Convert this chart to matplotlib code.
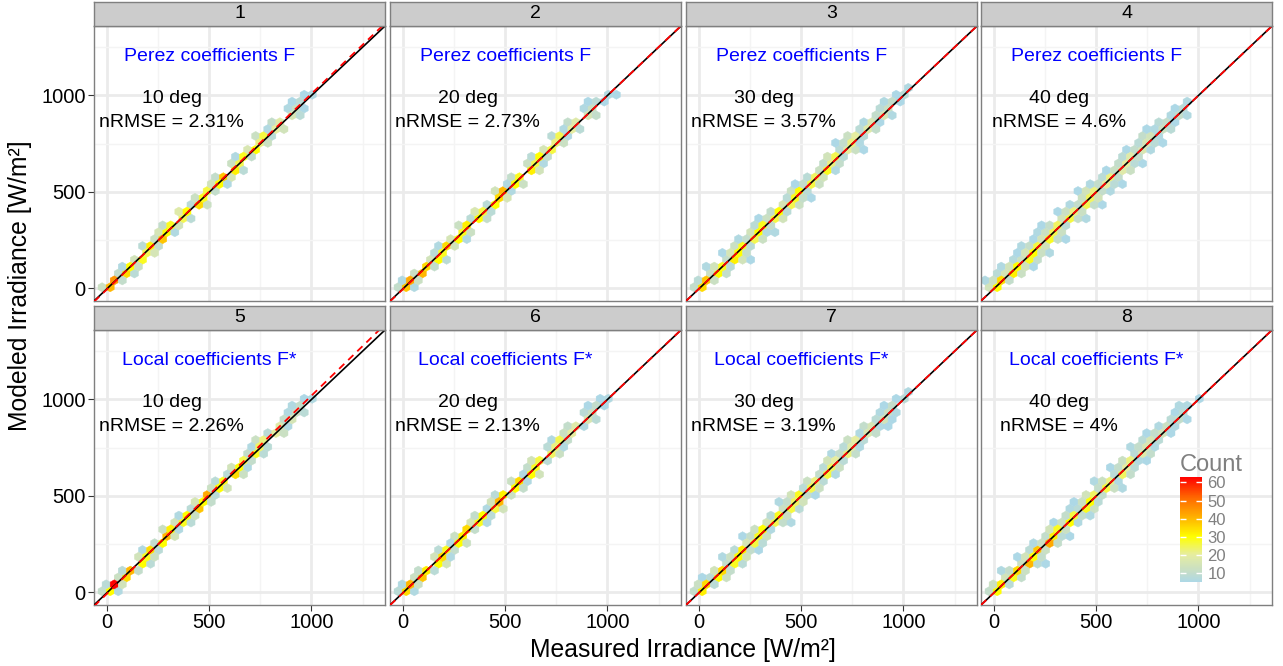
import numpy as np
import matplotlib.pyplot as plt
from matplotlib.colors import LinearSegmentedColormap, Normalize

plt.rcParams['font.family'] = ['Liberation Sans', 'DejaVu Sans']

# facet labels and annotations
panels = [1, 2, 3, 4, 5, 6, 7, 8]
subtitles = ['Perez coefficients F'] * 4 + ['Local coefficients F*'] * 4
degrees = [10, 20, 30, 40, 10, 20, 30, 40]
nrmse = ['2.31', '2.73', '3.57', '4.6', '2.26', '2.13', '3.19', '4']

# fitted line (modeled = a + b * measured), dashed red
fit_intercept = [-3, -2, 0, 1, -5, -1, 0, 0]
fit_slope = [1.012, 1.002, 1.0, 0.999, 1.025, 1.001, 1.0, 1.0]

# binned counts: modeled level (W/m2) x residual (modeled - measured)
levels = [15, 50, 85, 120, 155, 190, 225, 260, 295, 330, 365, 400, 435, 470, 505,
          540, 575, 610, 645, 680, 715, 750, 785, 820, 855, 890, 925, 960, 995, 1030]
resid = [-80, -40, 0, 40, 80]

on = [
    [40, 45, 35, 30, 28, 25, 32, 38, 30, 28, 25, 30, 35, 28, 26, 30, 38, 32, 25, 28, 30, 22, 26, 20, 18, 15, 12, 8, 6, 0],
    [38, 42, 40, 35, 30, 28, 35, 30, 28, 32, 30, 26, 30, 35, 40, 30, 28, 32, 25, 30, 26, 22, 25, 20, 18, 15, 12, 8, 6, 0],
    [35, 38, 30, 28, 32, 30, 28, 25, 30, 28, 26, 30, 25, 28, 30, 26, 24, 28, 22, 25, 20, 22, 20, 18, 16, 15, 12, 10, 8, 6],
    [30, 35, 32, 30, 28, 30, 26, 28, 25, 24, 26, 22, 25, 24, 22, 20, 22, 18, 20, 18, 16, 15, 14, 12, 10, 10, 8, 6, 0, 0],
    [30, 63, 35, 40, 30, 28, 35, 30, 40, 32, 28, 30, 38, 30, 42, 30, 28, 35, 30, 25, 28, 24, 22, 20, 18, 15, 12, 10, 6, 0],
    [35, 40, 38, 32, 30, 35, 28, 30, 32, 35, 28, 30, 26, 40, 32, 30, 35, 30, 28, 26, 24, 22, 25, 20, 18, 16, 12, 10, 6, 0],
    [32, 35, 30, 35, 28, 30, 32, 26, 28, 30, 25, 28, 26, 24, 28, 25, 22, 26, 24, 20, 22, 18, 20, 16, 15, 14, 12, 10, 8, 6],
    [30, 32, 28, 35, 40, 30, 38, 42, 32, 28, 30, 26, 28, 30, 24, 26, 22, 24, 20, 22, 18, 16, 15, 14, 12, 10, 8, 6, 5, 0],
]
up = [
    [12, 0, 10, 6, 14, 0, 8, 12, 15, 10, 0, 18, 8, 12, 0, 14, 10, 0, 12, 6, 16, 0, 12, 6, 10, 0, 6, 5, 5, 0],
    [10, 6, 12, 0, 14, 8, 6, 15, 0, 12, 8, 16, 8, 0, 14, 6, 10, 0, 12, 8, 15, 0, 8, 6, 10, 0, 6, 5, 0, 0],
    [10, 8, 12, 14, 10, 15, 12, 10, 14, 8, 12, 10, 15, 8, 12, 10, 8, 12, 10, 14, 8, 10, 12, 8, 6, 10, 8, 6, 5, 0],
    [14, 12, 15, 14, 12, 15, 10, 14, 12, 10, 14, 12, 10, 12, 14, 10, 8, 12, 10, 8, 10, 8, 10, 6, 8, 6, 5, 0, 0, 0],
    [10, 8, 12, 8, 0, 14, 6, 10, 0, 12, 14, 6, 8, 15, 0, 12, 8, 8, 14, 0, 10, 6, 12, 8, 0, 10, 6, 6, 5, 0],
    [8, 6, 12, 10, 0, 14, 8, 6, 12, 0, 15, 10, 6, 14, 8, 0, 12, 6, 10, 14, 0, 8, 6, 12, 10, 0, 8, 5, 5, 0],
    [10, 12, 8, 14, 10, 12, 8, 15, 10, 12, 14, 8, 12, 10, 14, 8, 12, 10, 8, 14, 10, 8, 12, 6, 10, 8, 6, 5, 5, 0],
    [10, 12, 14, 10, 12, 14, 8, 12, 10, 14, 12, 10, 8, 12, 14, 10, 12, 8, 10, 12, 8, 10, 8, 10, 6, 8, 5, 6, 0, 0],
]
dn = [
    [0, 10, 8, 12, 0, 15, 10, 0, 6, 14, 8, 0, 12, 0, 10, 6, 15, 8, 0, 10, 0, 12, 8, 14, 0, 8, 5, 0, 0, 0],
    [6, 12, 0, 10, 8, 0, 14, 6, 12, 0, 10, 8, 0, 15, 6, 12, 0, 14, 6, 10, 0, 12, 6, 8, 0, 10, 0, 5, 5, 0],
    [0, 12, 10, 8, 14, 10, 8, 12, 6, 10, 14, 8, 12, 10, 8, 12, 14, 6, 10, 8, 12, 6, 8, 10, 5, 6, 0, 5, 0, 0],
    [0, 10, 12, 14, 10, 12, 14, 10, 12, 8, 10, 12, 10, 14, 10, 8, 10, 12, 8, 10, 6, 8, 6, 8, 5, 6, 0, 0, 0, 0],
    [6, 14, 0, 10, 8, 12, 8, 0, 14, 6, 8, 12, 0, 10, 8, 14, 0, 12, 6, 10, 8, 8, 0, 12, 6, 0, 8, 0, 0, 0],
    [6, 12, 0, 8, 14, 6, 10, 12, 0, 10, 6, 8, 14, 0, 12, 10, 6, 14, 0, 8, 12, 6, 10, 0, 6, 8, 0, 5, 0, 0],
    [0, 8, 12, 10, 8, 14, 10, 8, 12, 6, 10, 12, 8, 14, 10, 12, 8, 6, 12, 8, 10, 6, 8, 10, 6, 5, 6, 0, 0, 0],
    [0, 8, 10, 12, 8, 10, 12, 10, 8, 12, 6, 10, 12, 8, 10, 12, 6, 10, 8, 6, 10, 6, 8, 5, 6, 5, 0, 0, 0, 0],
]
up2 = [
    [], [],
    [0, 0, 0, 6, 0, 5, 0, 6, 0, 0, 5, 0, 0, 0, 0, 5, 0, 0, 0, 0, 0, 5, 0, 0, 0, 0, 0, 0, 0, 0],
    [0, 6, 8, 6, 7, 5, 6, 5, 6, 5, 0, 5, 6, 0, 5, 6, 0, 5, 0, 0, 5, 0, 0, 5, 0, 0, 0, 0, 0, 0],
    [], [],
    [0, 0, 5, 0, 0, 6, 0, 0, 5, 0, 0, 0, 0, 6, 0, 0, 0, 0, 0, 0, 6, 0, 0, 0, 0, 0, 0, 0, 0, 0],
    [0, 0, 0, 6, 0, 5, 0, 6, 0, 0, 5, 0, 6, 5, 0, 0, 6, 0, 5, 0, 0, 6, 0, 5, 0, 0, 0, 0, 0, 0],
]
dn2 = [
    [], [],
    [0, 0, 0, 0, 5, 0, 0, 0, 6, 0, 0, 0, 0, 5, 0, 0, 0, 0, 0, 0, 5, 0, 0, 0, 0, 0, 0, 0, 0, 0],
    [0, 0, 0, 5, 0, 6, 0, 5, 0, 0, 6, 0, 5, 0, 6, 5, 0, 0, 5, 0, 0, 5, 0, 0, 0, 0, 0, 0, 0, 0],
    [], [],
    [0, 0, 0, 0, 0, 0, 5, 0, 0, 0, 6, 0, 0, 0, 5, 0, 0, 0, 0, 0, 0, 0, 0, 0, 5, 0, 0, 0, 0, 0],
    [0, 0, 0, 0, 5, 0, 0, 0, 5, 0, 0, 6, 0, 0, 0, 6, 0, 0, 0, 5, 0, 0, 0, 0, 0, 0, 0, 0, 0, 0],
]

axis_ticks = [0, 500, 1000]
minor_ticks = [250, 750, 1250]
count_ticks = [10, 20, 30, 40, 50, 60]
lim = (-65, 1360)


def panel_points(k):
    xs, ys, cs = [], [], []
    for r, table in zip(resid, [dn2[k], dn[k], on[k], up[k], up2[k]]):
        for lev, n in zip(levels, table):
            if n > 0:
                xs.append(lev - r)
                ys.append(lev)
                cs.append(n)
    return np.array(xs), np.array(ys), np.array(cs)


pts = [panel_points(k) for k in range(8)]
all_c = np.concatenate([p[2] for p in pts])
norm = Normalize(vmin=all_c.min(), vmax=all_c.max())
cmap = LinearSegmentedColormap.from_list('count', [
    (0.0, '#ADD8E6'), (0.09, '#C4DDCA'), (0.26, '#E6EDA0'), (0.43, '#FFFF00'),
    (0.62, '#FFB000'), (0.8, '#FF6A00'), (1.0, '#FF0000')])

W, H = 1283, 666
fig = plt.figure(figsize=(W / 100, H / 100), dpi=100)

col_left = [94, 390, 686, 981]
pw = 291
row_top = [26, 330]
ph = 275
strip_h = 24.5


def frac(x0, top, w, h):
    return [x0 / W, 1 - (top + h) / H, w / W, h / H]


hb = None
for k, p in enumerate(panels):
    r, c = divmod(k, 4)
    ax = fig.add_axes(frac(col_left[c], row_top[r], pw, ph))
    ax.set_facecolor('white')
    ax.set_axisbelow(True)
    x, y, cnt = pts[k]
    hb = ax.hexbin(x, y, C=cnt, reduce_C_function=np.sum, gridsize=36,
                   extent=(lim[0], lim[1], lim[0], lim[1]), cmap=cmap, norm=norm,
                   linewidths=0.3, edgecolors='face', zorder=2)
    ax.axline((0, 0), slope=1, color='black', lw=1.2, zorder=3)
    xl = np.array(lim)
    ax.plot(xl, fit_intercept[k] + fit_slope[k] * xl, color='red', lw=1.3,
            ls=(0, (4, 3)), zorder=4)
    ax.set_xlim(lim)
    ax.set_ylim(lim)
    ax.set_xticks(axis_ticks)
    ax.set_yticks(axis_ticks)
    ax.set_xticks(minor_ticks, minor=True)
    ax.set_yticks(minor_ticks, minor=True)
    ax.grid(which='major', color='#EBEBEB', lw=2.0)
    ax.grid(which='minor', color='#F4F4F4', lw=1.0)
    ax.tick_params(which='minor', length=0)
    ax.tick_params(which='major', length=4, width=0.8, color='#333333',
                   labelsize=14.5, labelcolor='black', pad=2)
    ax.tick_params(left=(c == 0), labelleft=(c == 0),
                   bottom=(r == 1), labelbottom=(r == 1))
    for s in ax.spines.values():
        s.set_color('#7F7F7F')
        s.set_linewidth(1.0)

    ax.text(500, 1200, subtitles[k], color='#0000FF', fontsize=14,
            ha='center', va='center', zorder=5)
    ax.text(315, 922, f'{degrees[k]} deg\nnRMSE = {nrmse[k]}%', color='black',
            fontsize=14, ha='center', va='center', linespacing=1.55, zorder=5)

    sax = fig.add_axes(frac(col_left[c], row_top[r] - strip_h, pw, strip_h))
    sax.set_facecolor('#CCCCCC')
    sax.set_xticks([])
    sax.set_yticks([])
    for s in sax.spines.values():
        s.set_color('#7F7F7F')
        s.set_linewidth(1.0)
    sax.text(0.5, 0.5, str(p), transform=sax.transAxes, ha='center', va='center',
             fontsize=14, color='black')

# colour bar inside the last panel
cax = fig.add_axes(frac(1180, 477, 22, 105))
cb = fig.colorbar(hb, cax=cax, ticks=count_ticks)
cb.outline.set_visible(False)
cax.tick_params(direction='in', length=4, width=1, color='white', left=True, right=True,
                labelsize=12, labelcolor='#808080', pad=4)
fig.text(1180 / W, 1 - 465 / H, 'Count', fontsize=17, color='#808080',
         ha='left', va='center')

fig.text(683 / W, 1 - 650 / H, 'Measured Irradiance [W/m²]', fontsize=17.8,
         ha='center', va='center')
fig.text(20 / W, 1 - 286 / H, 'Modeled Irradiance [W/m²]', fontsize=17.8,
         ha='center', va='center', rotation=90)

fig.savefig('out.png', dpi=100)
